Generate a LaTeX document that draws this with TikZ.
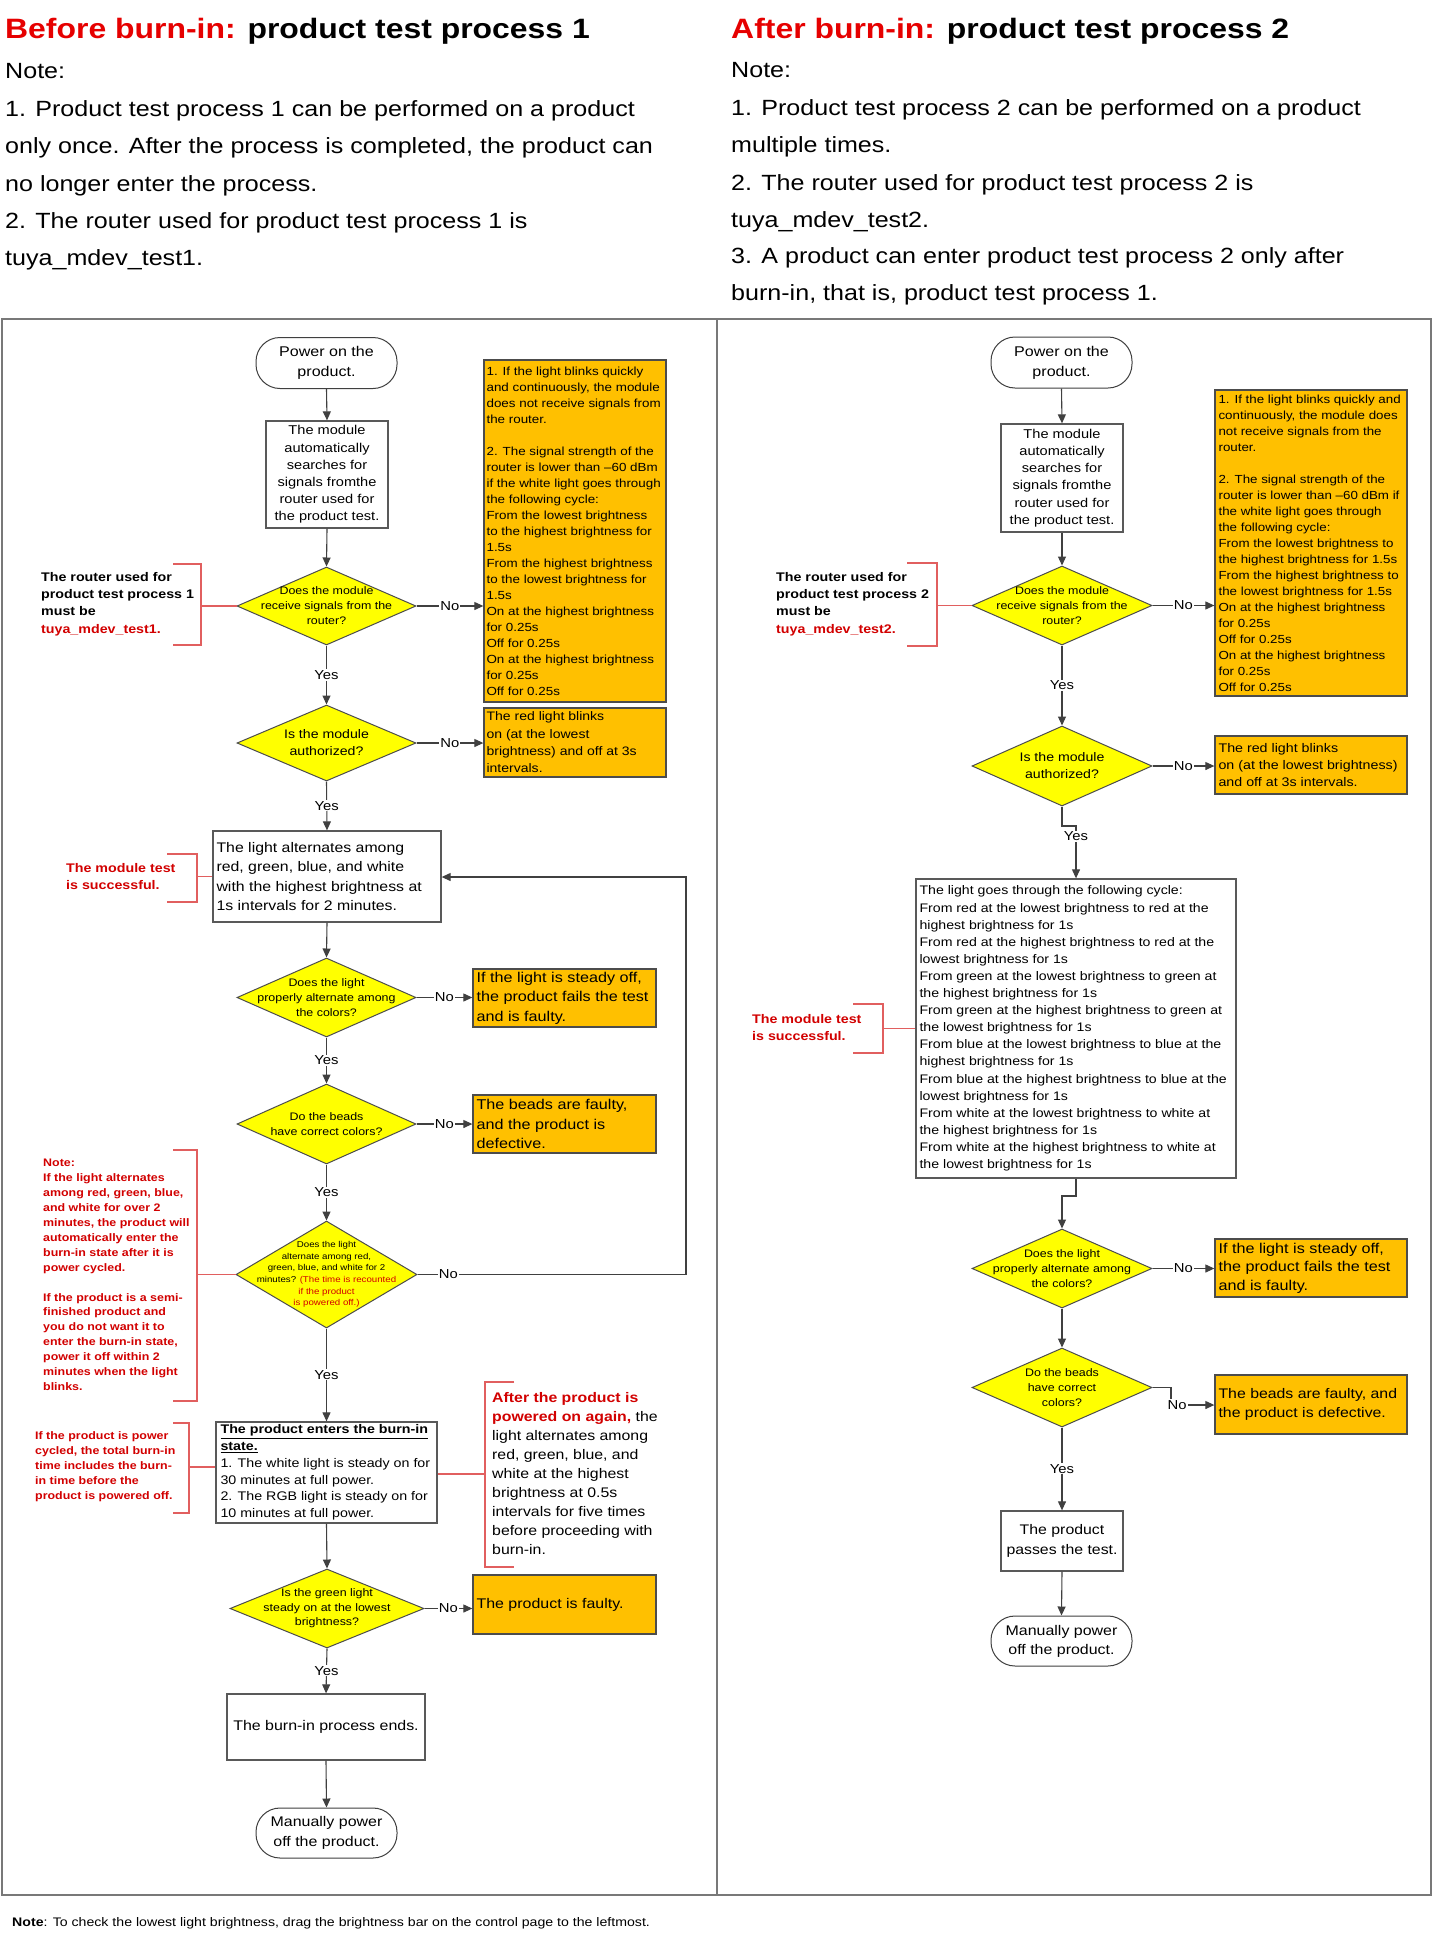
\documentclass[tikz,border=0pt]{standalone}
\usepackage{fontspec}
\setmainfont{Liberation Sans}[FakeStretch=1.14]
\usetikzlibrary{shapes.geometric,arrows.meta}
\definecolor{titlered}{RGB}{230,0,0}
\definecolor{notered}{RGB}{210,0,0}
\definecolor{orangeY}{RGB}{255,192,0}
\definecolor{diayel}{RGB}{255,255,0}
\definecolor{brkred}{RGB}{225,95,95}
\definecolor{lin}{RGB}{64,64,64}
\definecolor{frm}{RGB}{120,120,120}
\newcommand\fsz[2]{\fontsize{#1}{#2}\selectfont}
\begin{document}
\begin{tikzpicture}[x=1pt,y=-1pt,
 flow/.style={draw=lin, line width=1.1pt},
 arr/.style={flow, -{Triangle[length=9pt,width=8pt]}},
 boxs/.style={draw=black!65, line width=1.3pt, fill=white, inner sep=0pt},
 dia/.style={diamond, draw=black!70, fill=diayel, line width=1pt, inner sep=0pt},
 orng/.style={draw=black!70, fill=orangeY, line width=1.3pt, inner sep=0pt},
 stad/.style={draw=black!75, line width=1pt, rounded corners=24pt, fill=white, inner sep=0pt},
 brk/.style={draw=brkred, line width=1.1pt},
 lbl/.style={fill=white, inner sep=1pt, font=\fsz{13}{15}},
 tx/.style={inner sep=0pt, align=left, anchor=west},
 tc/.style={inner sep=0pt, align=center},
 hdl/.style={inner sep=0pt, anchor=base west, font=\fsz{22}{26}},
 hdt/.style={inner sep=0pt, anchor=base west, font=\fsz{28}{32}\bfseries},
 frame/.style={draw=frm, line width=1.5pt}
]
\useasboundingbox (0,0) rectangle (1434,1938);
\fill[white] (0,0) rectangle (1434,1938);

% ---------- headers ----------
\node[hdt] (t1) at (5,38) {\textcolor{titlered}{Before burn-in:} product test process 1};
\node[hdl] (h1) at (5,78) {Note:};
\node[hdl] (h2) at (5,116) {1. Product test process 1 can be performed on a product};
\node[hdl] (h3) at (5,153) {only once. After the process is completed, the product can};
\node[hdl] (h4) at (5,191) {no longer enter the process.};
\node[hdl] (h5) at (5,228) {2. The router used for product test process 1 is};
\node[hdl] (h6) at (5,265) {tuya\_mdev\_test1.};

\node[hdt] (t2) at (731,38) {\textcolor{titlered}{After burn-in:} product test process 2};
\node[hdl] (k1) at (731,77) {Note:};
\node[hdl] (k2) at (731,115) {1. Product test process 2 can be performed on a product};
\node[hdl] (k3) at (731,152) {multiple times.};
\node[hdl] (k4) at (731,190) {2. The router used for product test process 2 is};
\node[hdl] (k5) at (731,227) {tuya\_mdev\_test2.};
\node[hdl] (k6) at (731,263) {3. A product can enter product test process 2 only after};
\node[hdl] (k7) at (731,300) {burn-in, that is, product test process 1.};

% ---------- frame ----------
\draw[frame] (2,319) rectangle (1431,1895);
\draw[frame] (717,319) -- (717,1895);

% ---------- left chart ----------
\node[stad, minimum width=141pt, minimum height=51pt] (L0) at (326.5,363) {};
\node[tc, font=\fsz{14.1}{20}] (L0t) at (L0) {Power on the\\product.};
\node[boxs, minimum width=122pt, minimum height=107pt] (L1) at (327,474.5) {};
\node[tc, font=\fsz{12.8}{17.2}] (L1t) at (L1) {The module\\automatically\\searches for\\signals fromthe\\router used for\\the product test.};
\node[dia, minimum width=179pt, minimum height=78pt] (Ld1) at (326.5,606) {};
\node[tc, font=\fsz{10.9}{15}] (Ld1t) at (Ld1) {Does the module\\receive signals from the\\router?};
\node[orng, minimum width=182pt, minimum height=342pt] (Lo1) at (575,531) {};
\node[tx, font=\fsz{11.75}{16}] (Lo1t) at ([xshift=3pt]Lo1.west) {1. If the light blinks quickly\\and continuously, the module\\does not receive signals from\\the router.\\[16pt]2. The signal strength of the\\router is lower than –60 dBm\\if the white light goes through\\the following cycle:\\From the lowest brightness\\to the highest brightness for\\1.5s\\From the highest brightness\\to the lowest brightness for\\1.5s\\On at the highest brightness\\for 0.25s\\Off for 0.25s\\On at the highest brightness\\for 0.25s\\Off for 0.25s};

\node[dia, minimum width=179pt, minimum height=76pt] (Ld2) at (326.5,743) {};
\node[tc, font=\fsz{12.4}{17}] (Ld2t) at (Ld2) {Is the module\\authorized?};
\node[orng, minimum width=182pt, minimum height=69pt] (Lo2) at (575,742.5) {};
\node[tx, font=\fsz{12.3}{17.3}] (Lo2t) at ([xshift=3pt]Lo2.west) {The red light blinks\\on (at the lowest\\brightness) and off at 3s\\intervals.};

\node[boxs, minimum width=228pt, minimum height=91pt] (L3) at (327,876.5) {};
\node[tx, font=\fsz{13.9}{19.3}] (L3t) at ([xshift=4pt]L3.west) {The light alternates among\\red, green, blue, and white\\with the highest brightness at\\1s intervals for 2 minutes.};

\node[dia, minimum width=179pt, minimum height=79pt] (Ld3) at (326.5,997.5) {};
\node[tc, font=\fsz{10.9}{14.7}] (Ld3t) at (Ld3) {Does the light\\properly alternate among\\the colors?};
\node[orng, minimum width=183pt, minimum height=58pt] (Lo3) at (564.5,998) {};
\node[tx, font=\fsz{14.2}{19.5}] (Lo3t) at ([xshift=4pt]Lo3.west) {If the light is steady off,\\the product fails the test\\and is faulty.};

\node[dia, minimum width=179pt, minimum height=80pt] (Ld4) at (326.5,1124) {};
\node[tc, font=\fsz{10.9}{15}] (Ld4t) at (Ld4) {Do the beads\\have correct colors?};
\node[orng, minimum width=183pt, minimum height=58pt] (Lo4) at (564.5,1124) {};
\node[tx, font=\fsz{14.2}{19.5}] (Lo4t) at ([xshift=4pt]Lo4.west) {The beads are faulty,\\and the product is\\defective.};

\node[dia, minimum width=181pt, minimum height=107pt] (Ld5) at (326.5,1274.5) {};
\node[tc, font=\fsz{8.5}{11.6}] (Ld5t) at (Ld5) {Does the light\\alternate among red,\\green, blue, and white for 2\\minutes? \textcolor{notered}{(The time is recounted}\\\textcolor{notered}{if the product}\\\textcolor{notered}{is powered off.)}};

\node[boxs, minimum width=221pt, minimum height=101pt] (LB) at (326.5,1472.5) {};
\node[tx, font=\fsz{12.5}{16.8}] (LBt) at ([xshift=5pt]LB.west) {\underline{\textbf{The product enters the burn-in}}\\\underline{\textbf{state.}}\\1. The white light is steady on for\\30 minutes at full power.\\2. The RGB light is steady on for\\10 minutes at full power.};

\node[dia, minimum width=194pt, minimum height=79pt] (Ld6) at (327,1608.5) {};
\node[tc, font=\fsz{10.9}{14.5}] (Ld6t) at (Ld6) {Is the green light\\steady on at the lowest\\brightness?};
\node[orng, minimum width=183pt, minimum height=59pt] (Lo5) at (564.5,1604.5) {};
\node[tx, font=\fsz{14}{19}] (Lo5t) at ([xshift=4pt]Lo5.west) {The product is faulty.};

\node[boxs, minimum width=198pt, minimum height=66pt] (LE) at (326,1727) {};
\node[tc, font=\fsz{14}{19}] (LEt) at (LE) {The burn-in process ends.};
\node[stad, minimum width=141pt, minimum height=50pt] (LS) at (326.5,1833) {};
\node[tc, font=\fsz{14}{20}] (LSt) at (LS) {Manually power\\off the product.};

% left connectors
\draw[arr] (L0.south) -- (L1.north);
\draw[arr] (L1.south) -- (Ld1.north);
\draw[arr] (Ld1.east) -- node[lbl]{No} (Ld1.east -| Lo1.west);
\draw[arr] (Ld1.south) -- node[lbl]{Yes} (Ld2.north);
\draw[arr] (Ld2.east) -- node[lbl]{No} (Ld2.east -| Lo2.west);
\draw[arr] (Ld2.south) -- node[lbl]{Yes} (L3.north);
\draw[arr] (L3.south) -- (Ld3.north);
\draw[arr] (Ld3.east) -- node[lbl]{No} (Ld3.east -| Lo3.west);
\draw[arr] (Ld3.south) -- node[lbl]{Yes} (Ld4.north);
\draw[arr] (Ld4.east) -- node[lbl]{No} (Ld4.east -| Lo4.west);
\draw[arr] (Ld4.south) -- node[lbl]{Yes} (Ld5.north);
\coordinate (fbx) at (686,877);
\draw[arr] (Ld5.east) -- node[lbl,pos=0.115]{No} (Ld5.east -| fbx) -- (fbx) -- (L3.east |- fbx);
\draw[arr] (Ld5.south) -- node[lbl]{Yes} (LB.north);
\draw[arr] (LB.south) -- (Ld6.north);
\draw[arr] (Ld6.east) -- node[lbl]{No} (Ld6.east -| Lo5.west);
\draw[arr] (Ld6.south) -- node[lbl]{Yes} (LE.north);
\draw[arr] (LE.south) -- (LS.north);

% left brackets and notes
\draw[brk] (173,564) -- (201,564) -- (201,645) -- (173,645);
\coordinate (b1) at (201,606);
\draw[brk] (b1) -- (Ld1.west);
\node[tx, font=\fsz{12.5}{17.3}\bfseries] (b1t) at (41,604) {The router used for\\product test process 1\\must be\\\textcolor{notered}{tuya\_mdev\_test1.}};

\draw[brk] (167,854) -- (197,854) -- (197,902) -- (167,902);
\coordinate (b2) at (197,876.5);
\draw[brk] (b2) -- (L3.west);
\node[tx, font=\fsz{12.5}{17}\bfseries, text=notered] (b2t) at (66,877) {The module test\\is successful.};

\draw[brk] (173,1150) -- (197,1150) -- (197,1401) -- (173,1401);
\coordinate (b5) at (197,1274.5);
\draw[brk] (b5) -- (Ld5.west);
\node[tx, font=\fsz{10.9}{14.9}\bfseries, text=notered] (b5t) at (43,1275) {Note:\\If the light alternates\\among red, green, blue,\\and white for over 2\\minutes, the product will\\automatically enter the\\burn-in state after it is\\power cycled.\\[14.9pt]If the product is a semi-\\finished product and\\you do not want it to\\enter the burn-in state,\\power it off within 2\\minutes when the light\\blinks.};

\draw[brk] (173,1423) -- (189,1423) -- (189,1513) -- (173,1513);
\coordinate (b3) at (189,1467);
\draw[brk] (b3) -- (b3 -| LB.west);
\node[tx, font=\fsz{10.9}{15}\bfseries, text=notered] (b3t) at (35,1467) {If the product is power\\cycled, the total burn-in\\time includes the burn-\\in time before the\\product is powered off.};

\draw[brk] (514,1382) -- (485,1382) -- (485,1567) -- (514,1567);
\coordinate (b4) at (485,1474);
\draw[brk] (b4 -| LB.east) -- (b4);
\node[tx, font=\fsz{13.9}{19}] (b4t) at (492,1474) {\textcolor{notered}{\textbf{After the product is}}\\\textcolor{notered}{\textbf{powered on again,}} the\\light alternates among\\red, green, blue, and\\white at the highest\\brightness at 0.5s\\intervals for five times\\before proceeding with\\burn-in.};

% ---------- right chart ----------
\node[stad, minimum width=141pt, minimum height=51pt] (R0) at (1061.5,362.5) {};
\node[tc, font=\fsz{14.1}{20}] (R0t) at (R0) {Power on the\\product.};
\node[boxs, minimum width=122pt, minimum height=108pt] (R1) at (1062,478) {};
\node[tc, font=\fsz{12.8}{17.2}] (R1t) at (R1) {The module\\automatically\\searches for\\signals fromthe\\router used for\\the product test.};
\node[dia, minimum width=180pt, minimum height=79pt] (Rd1) at (1062,605.5) {};
\node[tc, font=\fsz{10.9}{15}] (Rd1t) at (Rd1) {Does the module\\receive signals from the\\router?};
\node[orng, minimum width=192pt, minimum height=306pt] (Ro1) at (1311,543) {};
\node[tx, font=\fsz{11.7}{16}] (Ro1t) at ([xshift=4pt]Ro1.west) {1. If the light blinks quickly and\\continuously, the module does\\not receive signals from the\\router.\\[16pt]2. The signal strength of the\\router is lower than –60 dBm if\\the white light goes through\\the following cycle:\\From the lowest brightness to\\the highest brightness for 1.5s\\From the highest brightness to\\the lowest brightness for 1.5s\\On at the highest brightness\\for 0.25s\\Off for 0.25s\\On at the highest brightness\\for 0.25s\\Off for 0.25s};

\node[dia, minimum width=180pt, minimum height=80pt] (Rd2) at (1062,766) {};
\node[tc, font=\fsz{12.4}{17}] (Rd2t) at (Rd2) {Is the module\\authorized?};
\node[orng, minimum width=192pt, minimum height=58pt] (Ro2) at (1311,765) {};
\node[tx, font=\fsz{12.5}{17}] (Ro2t) at ([xshift=4pt]Ro2.west) {The red light blinks\\on (at the lowest brightness)\\and off at 3s intervals.};

\node[boxs, minimum width=320pt, minimum height=299pt] (RB) at (1076,1028.5) {};
\node[tx, font=\fsz{12.4}{17.1}] (RBt) at ([xshift=4pt]RB.west) {The light goes through the following cycle:\\From red at the lowest brightness to red at the\\highest brightness for 1s\\From red at the highest brightness to red at the\\lowest brightness for 1s\\From green at the lowest brightness to green at\\the highest brightness for 1s\\From green at the highest brightness to green at\\the lowest brightness for 1s\\From blue at the lowest brightness to blue at the\\highest brightness for 1s\\From blue at the highest brightness to blue at the\\lowest brightness for 1s\\From white at the lowest brightness to white at\\the highest brightness for 1s\\From white at the highest brightness to white at\\the lowest brightness for 1s};

\node[dia, minimum width=180pt, minimum height=79pt] (Rd3) at (1062,1268.5) {};
\node[tc, font=\fsz{10.9}{14.7}] (Rd3t) at (Rd3) {Does the light\\properly alternate among\\the colors?};
\node[orng, minimum width=192pt, minimum height=58pt] (Ro3) at (1311,1268) {};
\node[tx, font=\fsz{14.2}{18.5}] (Ro3t) at ([xshift=4pt]Ro3.west) {If the light is steady off,\\the product fails the test\\and is faulty.};

\node[dia, minimum width=180pt, minimum height=79pt] (Rd4) at (1062,1387.5) {};
\node[tc, font=\fsz{10.9}{15}] (Rd4t) at (Rd4) {Do the beads\\have correct\\colors?};
\node[orng, minimum width=192pt, minimum height=59pt] (Ro4) at (1311,1404.5) {};
\node[tx, font=\fsz{13.9}{19.5}] (Ro4t) at ([xshift=4pt]Ro4.west) {The beads are faulty, and\\the product is defective.};

\node[boxs, minimum width=122pt, minimum height=60pt] (RP) at (1062,1541) {};
\node[tc, font=\fsz{13.9}{20}] (RPt) at (RP) {The product\\passes the test.};
\node[stad, minimum width=141pt, minimum height=50pt] (RS) at (1061.5,1641) {};
\node[tc, font=\fsz{14}{19}] (RSt) at (RS) {Manually power\\off the product.};

% right connectors
\draw[arr] (R0.south) -- (R1.north);
\draw[arr] (R1.south) -- (Rd1.north);
\draw[arr] (Rd1.east) -- node[lbl]{No} (Rd1.east -| Ro1.west);
\draw[arr] (Rd1.south) -- node[lbl]{Yes} (Rd2.north);
\draw[arr] (Rd2.east) -- node[lbl]{No} (Rd2.east -| Ro2.west);
\coordinate (j1) at (1062,826);
\draw[arr] (Rd2.south) -- (j1) -- (j1 -| RB.north) -- node[lbl,pos=0.2]{Yes} (RB.north);
\coordinate (j2) at (1076,1196);
\draw[arr] (RB.south) -- (j2) -- (j2 -| Rd3.north) -- (Rd3.north);
\draw[arr] (Rd3.east) -- node[lbl]{No} (Rd3.east -| Ro3.west);
\draw[arr] (Rd3.south) -- (Rd4.north);
\coordinate (j3) at (1171,1405);
\draw[arr] (Rd4.east) -- (Rd4.east -| j3) -- (j3) -- node[lbl,pos=0.14]{No} (j3 -| Ro4.west);
\draw[arr] (Rd4.south) -- node[lbl]{Yes} (RP.north);
\draw[arr] (RP.south) -- (RS.north);

% right brackets
\draw[brk] (907,563) -- (937,563) -- (937,646) -- (907,646);
\coordinate (rb1) at (937,605.5);
\draw[brk] (rb1) -- (Rd1.west);
\node[tx, font=\fsz{12.5}{17.3}\bfseries] (rb1t) at (776,604) {The router used for\\product test process 2\\must be\\\textcolor{notered}{tuya\_mdev\_test2.}};
\draw[brk] (853,1004) -- (883,1004) -- (883,1053) -- (853,1053);
\coordinate (rb2) at (883,1028.5);
\draw[brk] (rb2) -- (RB.west);
\node[tx, font=\fsz{12.5}{17}\bfseries, text=notered] (rb2t) at (752,1028) {The module test\\is successful.};

% footer
\node[inner sep=0pt, anchor=base west, font=\fsz{12.4}{15}] (foot) at (12,1926) {\textbf{Note}: To check the lowest light brightness, drag the brightness bar on the control page to the leftmost.};
\end{tikzpicture}
\end{document}
